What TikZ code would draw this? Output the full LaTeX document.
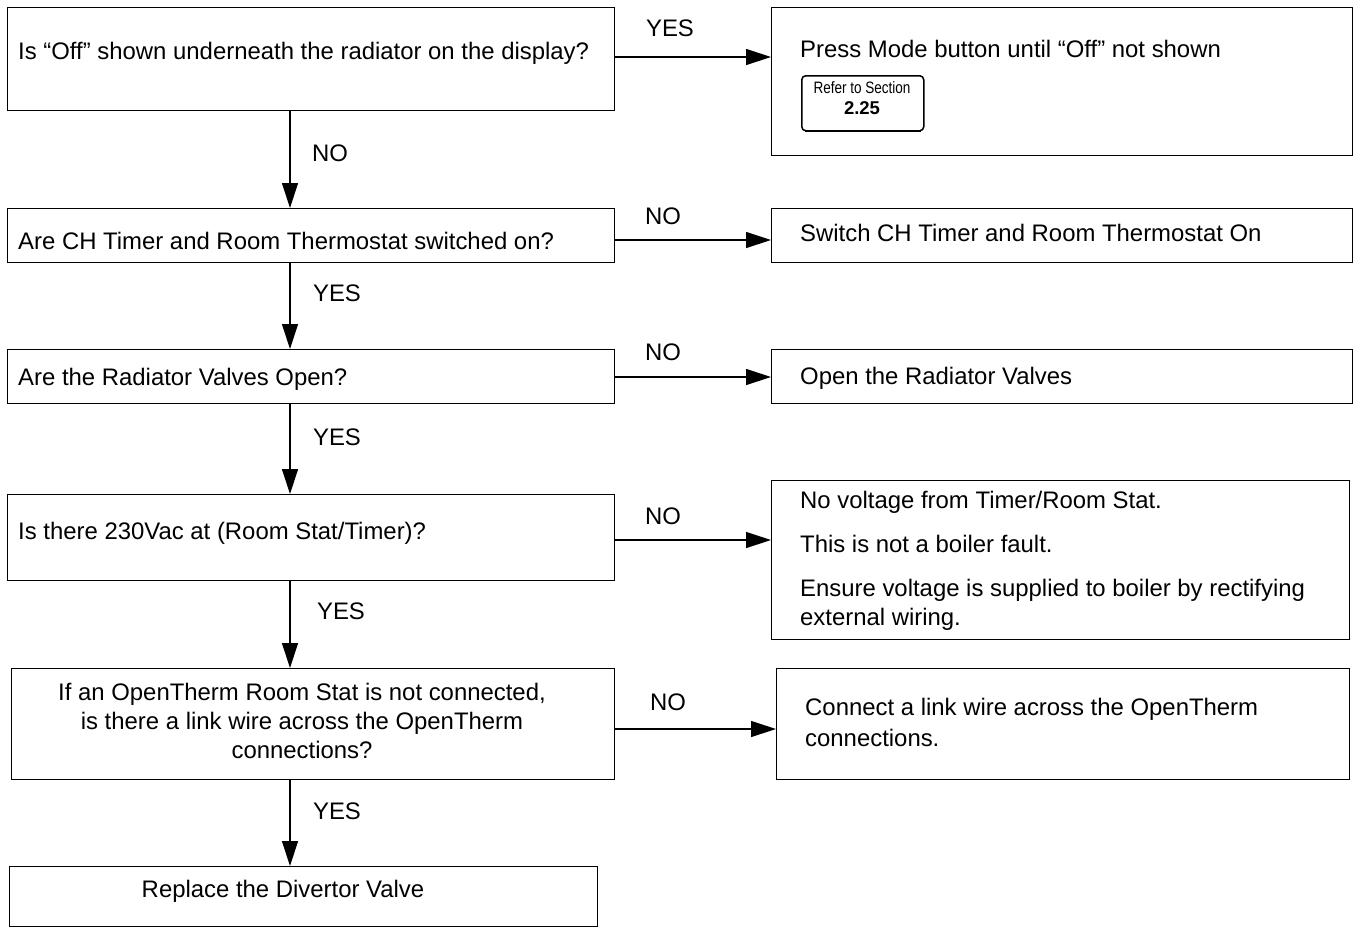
\documentclass[tikz,border=0pt]{standalone}
\usepackage{fontspec}
\setmainfont{Liberation Sans}
\newfontfamily\narrowf[FakeStretch=0.82]{Liberation Sans}
\usetikzlibrary{arrows.meta,calc}
\tikzset{
  box/.style={draw, line width=1.2pt, inner sep=0pt, anchor=north west},
  txt/.style={font=\fontsize{23.9}{29}\selectfont, inner sep=0pt, anchor=west},
  ctxt/.style={font=\fontsize{23.9}{29}\selectfont, inner sep=0pt, align=center},
  yn/.style={font=\fontsize{23.9}{29}\selectfont, inner sep=0pt},
  arr/.style={-{Triangle[length=25pt,width=16pt]}, line width=1.2pt},
}
\begin{document}
\begin{tikzpicture}[x=1pt,y=-1pt]
\useasboundingbox (0,0) rectangle (1357,927);
% left column boxes
\node[box, minimum width=607, minimum height=103] (b1) at (7,7) {};
\node[box, minimum width=607, minimum height=54] (b2) at (7,208) {};
\node[box, minimum width=607, minimum height=54] (b3) at (7,349) {};
\node[box, minimum width=607, minimum height=86] (b4) at (7,494) {};
\node[box, minimum width=603, minimum height=111] (b5) at (11,668) {};
\node[box, minimum width=588, minimum height=60] (b6) at (9,866) {};
% right column boxes
\node[box, minimum width=581, minimum height=148] (r1) at (771,7) {};
\node[box, minimum width=581, minimum height=54] (r2) at (771,208) {};
\node[box, minimum width=581, minimum height=54] (r3) at (771,349) {};
\node[box, minimum width=578, minimum height=159] (r4) at (771,480) {};
\node[box, minimum width=573, minimum height=111] (r5) at (776,668) {};
% texts left
\node[txt] (t1) at (18,53) {Is “Off” shown underneath the radiator on the display?};
\node[txt] (t2) at (18,241) {Are CH Timer and Room Thermostat switched on?};
\node[txt] (t3) at (18,379) {Are the Radiator Valves Open?};
\node[txt] (t4) at (18,533) {Is there 230Vac at (Room Stat/Timer)?};
\node[ctxt] (t5) at (302,721) {If an OpenTherm Room Stat is not connected,\\ is there a link wire across the OpenTherm\\ connections?};
\node[ctxt] (t6) at (283,891) {Replace the Divertor Valve};
% texts right
\node[txt] (s1) at (800,49) {Press Mode button until “Off” not shown};
\node[draw, line width=1.5pt, rounded corners=4pt, minimum width=122, minimum height=55, inner sep=0pt, anchor=north west] (ref) at (801,75) {};
\draw[line width=2.8pt] ([xshift=4pt,yshift=0.6pt]ref.south west) -- ([xshift=-4pt,yshift=0.6pt]ref.south east);
\node[inner sep=0pt, font=\narrowf\fontsize{16.5}{18}\selectfont] (refa) at (862,88) {Refer to Section};
\node[inner sep=0pt, font=\bfseries\fontsize{18.5}{20}\selectfont] (refb) at (862,108) {2.25};
\node[txt] (s2) at (800,233) {Switch CH Timer and Room Thermostat On};
\node[txt] (s3) at (800,378) {Open the Radiator Valves};
\node[txt] (s4a) at (800,502) {No voltage from Timer/Room Stat.};
\node[txt] (s4b) at (800,544) {This is not a boiler fault.};
\node[txt] (s4c) at (800,590) {Ensure voltage is supplied to boiler by rectifying};
\node[txt] (s4d) at (800,619) {external wiring.};
\node[txt] (s5a) at (805,709) {Connect a link wire across the OpenTherm};
\node[txt] (s5b) at (805,738) {connections.};
% yes/no labels
\node[yn] (l1) at (670,28) {YES};
\node[yn] (l2) at (330,153) {NO};
\node[yn] (l3) at (663,216) {NO};
\node[yn] (l4) at (337,293) {YES};
\node[yn] (l5) at (663,352) {NO};
\node[yn] (l6) at (337,437) {YES};
\node[yn] (l7) at (663,516) {NO};
\node[yn] (l8) at (341,611) {YES};
\node[yn] (l9) at (668,702) {NO};
\node[yn] (l10) at (337,811) {YES};
% connectors
\coordinate (vx) at (290,0);
\coordinate (h1) at (0,57);
\coordinate (h2) at (0,240);
\coordinate (h3) at (0,377);
\coordinate (h4) at (0,540);
\coordinate (h5) at (0,729);
\draw[arr] (b1.east |- h1) -- (r1.west |- h1);
\draw[arr] (b2.east |- h2) -- (r2.west |- h2);
\draw[arr] (b3.east |- h3) -- (r3.west |- h3);
\draw[arr] (b4.east |- h4) -- (r4.west |- h4);
\draw[arr] (b5.east |- h5) -- (r5.west |- h5);
\draw[arr] (vx |- b1.south) -- (vx |- b2.north);
\draw[arr] (vx |- b2.south) -- (vx |- b3.north);
\draw[arr] (vx |- b3.south) -- (vx |- b4.north);
\draw[arr] (vx |- b4.south) -- (vx |- b5.north);
\draw[arr] (vx |- b5.south) -- (vx |- b6.north);
\end{tikzpicture}
\end{document}
